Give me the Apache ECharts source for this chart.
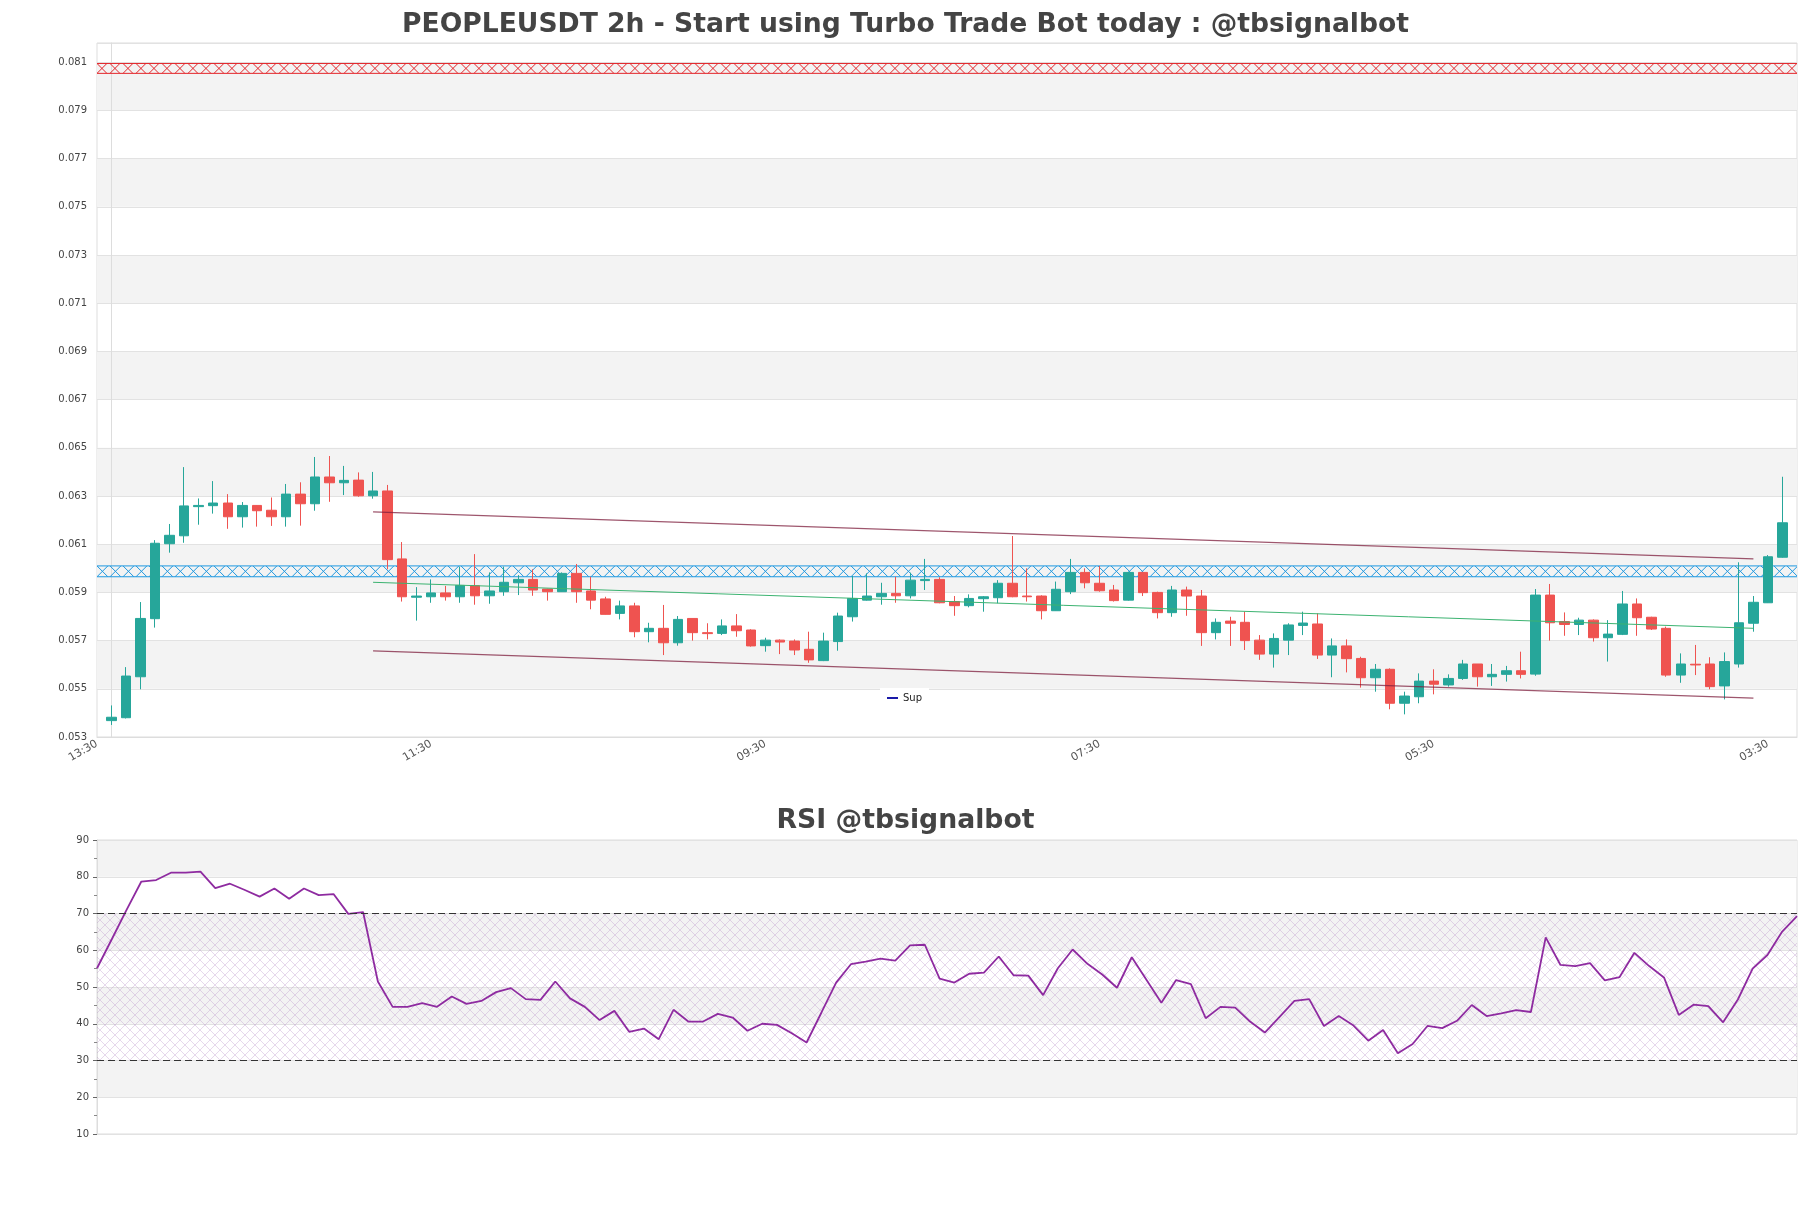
<!DOCTYPE html>
<html>
<head>
<meta charset="utf-8">
<script src="https://cdn.jsdelivr.net/npm/echarts@6/dist/echarts.min.js"></script>
<style>
html,body{margin:0;padding:0;background:#fff;}
#chart{width:1811px;height:1208px;}
</style>
</head>
<body>
<div id="chart"></div>
<script>
// ---- data ----
const titleMain = 'PEOPLEUSDT 2h - Start using Turbo Trade Bot today : @tbsignalbot';
const titleRsi = 'RSI @tbsignalbot';
const xTickLabels = ['13:30', '11:30', '09:30', '07:30', '05:30', '03:30'];

const opens = [0.05368,0.05380,0.05550,0.05791,0.06102,0.06135,0.06256,0.06260,0.06271,0.06214,
0.06261,0.06241,0.06214,0.06308,0.06268,0.06379,0.06355,0.06366,0.06301,0.06321,
0.06039,0.05880,0.05882,0.05898,0.05882,0.05928,0.05886,0.05903,0.05940,0.05954,
0.05914,0.05903,0.05979,0.05906,0.05873,0.05813,0.05844,0.05737,0.05751,0.05691,
0.05792,0.05733,0.05730,0.05761,0.05744,0.05679,0.05702,0.05698,0.05664,0.05617,
0.05696,0.05799,0.05868,0.05882,0.05896,0.05886,0.05949,0.05954,0.05862,0.05845,
0.05874,0.05878,0.05938,0.05885,0.05885,0.05824,0.05903,0.05983,0.05938,0.05910,
0.05868,0.05983,0.05900,0.05816,0.05910,0.05885,0.05733,0.05781,0.05776,0.05702,
0.05644,0.05702,0.05763,0.05769,0.05640,0.05678,0.05626,0.05546,0.05581,0.05440,
0.05467,0.05532,0.05516,0.05543,0.05603,0.05550,0.05560,0.05575,0.05561,0.05889,
0.05779,0.05767,0.05785,0.05712,0.05726,0.05852,0.05797,0.05751,0.05557,0.05602,
0.05603,0.05512,0.05603,0.05772,0.05857,0.06046];
const closes = [0.05382,0.05553,0.05792,0.06104,0.06137,0.06259,0.06261,0.06271,0.06214,0.06261,
0.06239,0.06214,0.06308,0.06268,0.06379,0.06355,0.06365,0.06301,0.06321,0.06036,
0.05882,0.05885,0.05898,0.05882,0.05929,0.05886,0.05906,0.05942,0.05954,0.05910,
0.05903,0.05979,0.05903,0.05868,0.05809,0.05844,0.05737,0.05751,0.05691,0.05788,
0.05733,0.05729,0.05761,0.05741,0.05678,0.05702,0.05694,0.05661,0.05620,0.05698,
0.05802,0.05875,0.05885,0.05896,0.05886,0.05951,0.05954,0.05857,0.05845,0.05875,
0.05882,0.05938,0.05882,0.05882,0.05824,0.05913,0.05983,0.05940,0.05907,0.05866,
0.05983,0.05899,0.05816,0.05910,0.05885,0.05733,0.05776,0.05772,0.05700,0.05644,
0.05709,0.05765,0.05773,0.05640,0.05678,0.05625,0.05546,0.05581,0.05440,0.05470,
0.05532,0.05519,0.05543,0.05603,0.05550,0.05560,0.05575,0.05560,0.05889,0.05774,
0.05767,0.05785,0.05712,0.05727,0.05852,0.05795,0.05748,0.05557,0.05603,0.05599,
0.05509,0.05613,0.05774,0.05859,0.06048,0.06189];
const lows = [0.05350,0.05377,0.05498,0.05754,0.06065,0.06106,0.06181,0.06227,0.06164,0.06169,
0.06173,0.06176,0.06173,0.06177,0.06239,0.06276,0.06304,0.06297,0.06289,0.05996,
0.05862,0.05783,0.05857,0.05866,0.05857,0.05849,0.05853,0.05886,0.05889,0.05886,
0.05866,0.05902,0.05857,0.05830,0.05808,0.05788,0.05714,0.05693,0.05640,0.05679,
0.05700,0.05705,0.05723,0.05716,0.05675,0.05654,0.05644,0.05640,0.05608,0.05615,
0.05658,0.05779,0.05866,0.05849,0.05857,0.05875,0.05910,0.05855,0.05803,0.05838,
0.05820,0.05855,0.05880,0.05862,0.05788,0.05823,0.05893,0.05917,0.05903,0.05862,
0.05866,0.05885,0.05792,0.05799,0.05803,0.05678,0.05705,0.05678,0.05661,0.05620,
0.05588,0.05640,0.05723,0.05624,0.05548,0.05568,0.05505,0.05488,0.05415,0.05394,
0.05440,0.05477,0.05509,0.05537,0.05509,0.05512,0.05530,0.05543,0.05554,0.05700,
0.05720,0.05723,0.05696,0.05613,0.05723,0.05720,0.05744,0.05550,0.05525,0.05557,
0.05498,0.05456,0.05588,0.05737,0.05856,0.06044];
const highs = [0.05431,0.05590,0.05860,0.06117,0.06184,0.06420,0.06290,0.06362,0.06308,0.06275,
0.06262,0.06294,0.06350,0.06357,0.06462,0.06466,0.06425,0.06398,0.06400,0.06346,
0.06109,0.05922,0.05954,0.05927,0.06007,0.06059,0.05983,0.06007,0.05972,0.05996,
0.05915,0.05983,0.06018,0.05965,0.05882,0.05866,0.05857,0.05774,0.05848,0.05802,
0.05792,0.05772,0.05788,0.05810,0.05747,0.05712,0.05705,0.05705,0.05737,0.05733,
0.05816,0.05968,0.05979,0.05940,0.05965,0.05982,0.06039,0.05963,0.05885,0.05892,
0.05885,0.05951,0.06134,0.06000,0.05888,0.05945,0.06039,0.06000,0.06010,0.05931,
0.05986,0.05985,0.05903,0.05927,0.05924,0.05910,0.05792,0.05799,0.05820,0.05723,
0.05730,0.05772,0.05820,0.05813,0.05709,0.05705,0.05633,0.05603,0.05585,0.05488,
0.05564,0.05581,0.05560,0.05620,0.05603,0.05603,0.05595,0.05654,0.05914,0.05935,
0.05817,0.05795,0.05788,0.05785,0.05906,0.05875,0.05799,0.05758,0.05647,0.05682,
0.05631,0.05651,0.06025,0.05885,0.06055,0.06380];

const rsi = [55.1,63.0,71.0,78.7,79.1,81.1,81.1,81.4,76.9,78.1,
76.4,74.6,76.8,74.0,76.8,75.0,75.3,69.9,70.4,51.5,
44.6,44.6,45.6,44.6,47.4,45.4,46.2,48.6,49.7,46.7,
46.5,51.5,46.9,44.6,41.0,43.5,37.8,38.7,35.8,43.8,
40.6,40.6,42.7,41.7,38.1,40.0,39.7,37.4,34.9,43.0,
51.2,56.2,56.9,57.7,57.2,61.3,61.5,52.3,51.2,53.6,
53.9,58.3,53.2,53.1,47.8,55.1,60.2,56.3,53.4,49.8,
58.1,51.9,45.7,51.9,50.8,41.5,44.6,44.4,40.6,37.6,
41.9,46.2,46.7,39.4,42.1,39.5,35.4,38.3,32.0,34.5,
39.4,38.8,40.8,45.1,42.1,42.8,43.7,43.2,63.5,56.0,
55.7,56.5,51.8,52.7,59.3,55.7,52.6,42.4,45.2,44.8,
40.4,46.6,55.0,58.7,65.1,69.3];

// channel (index, price)
const channelX = [18, 113];
const channelUpper = [0.06234, 0.06039];
const channelLower = [0.05657, 0.05461];
const channelMid = [0.05942, 0.05751];
// zones [low, high]
const resistanceZone = [0.08054, 0.08095];
const supportZone = [0.05965, 0.06010];
const rsiUpper = 70, rsiLower = 30;

// ---- chart ----
const font = 'DejaVu Sans, Verdana, sans-serif';
const green = '#26a69a', red = '#ef5350';

const candleData = opens.map((o, i) => [i, o, closes[i], lows[i], highs[i]]);
const rsiData = rsi.map((v, i) => [i, v]);
const line = (ys) => channelX.map((x, i) => [x, ys[i]]);

function hatch(color) {
  return function (params, api) {
    const cs = params.coordSys;
    const yTop = api.coord([api.value(0), api.value(2)])[1];
    const yBot = api.coord([api.value(0), api.value(1)])[1];
    const h = yBot - yTop;
    const step = 13;
    const x0 = cs.x, x1 = cs.x + cs.width;
    const st = { stroke: color, lineWidth: 1 };
    const children = [
      { type: 'line', shape: { x1: x0, y1: yTop, x2: x1, y2: yTop }, style: st },
      { type: 'line', shape: { x1: x0, y1: yBot, x2: x1, y2: yBot }, style: st }
    ];
    for (let c = x0 + h / 2; c - h / 2 < x1; c += step) {
      children.push({ type: 'line', shape: { x1: c - h / 2, y1: yTop, x2: c + h / 2, y2: yBot }, style: st });
      children.push({ type: 'line', shape: { x1: c - h / 2, y1: yBot, x2: c + h / 2, y2: yTop }, style: st });
    }
    return { type: 'group', children };
  };
}

const pat = document.createElement('canvas');
pat.width = 10; pat.height = 10;
(function () {
  const g = pat.getContext('2d');
  g.strokeStyle = 'rgba(175,130,195,0.45)';
  g.lineWidth = 0.7;
  g.beginPath();
  g.moveTo(0, 0); g.lineTo(10, 10);
  g.moveTo(10, 0); g.lineTo(0, 10);
  g.stroke();
})();

const chart = echarts.init(document.getElementById('chart'), null, { renderer: 'canvas' });
chart.setOption({
  animation: false,
  backgroundColor: '#ffffff',
  textStyle: { fontFamily: font },
  title: [
    { text: titleMain, left: 'center', top: 7, textStyle: { fontFamily: font, fontSize: 26.6, fontWeight: 'bold', color: '#444444' } },
    { text: titleRsi, left: 'center', top: 803, textStyle: { fontFamily: font, fontSize: 26.7, fontWeight: 'bold', color: '#444444' } }
  ],
  legend: {
    data: ['Sup'], left: 880, top: 688, backgroundColor: '#ffffff', padding: [5, 7],
    icon: 'rect', itemWidth: 11, itemHeight: 2, itemGap: 6,
    textStyle: { fontFamily: font, fontSize: 10, color: '#222' }
  },
  grid: [
    { left: 97, top: 43, width: 1700, height: 694, show: true, borderColor: '#dddddd', borderWidth: 1, backgroundColor: 'transparent' },
    { left: 97, top: 840, width: 1700, height: 294, show: true, borderColor: '#dddddd', borderWidth: 1, backgroundColor: 'transparent' }
  ],
  xAxis: [
    {
      type: 'value', gridIndex: 0, min: -1, max: 116, interval: 23,
      axisLine: { show: true, lineStyle: { color: '#dddddd' } },
      axisTick: { show: false },
      splitLine: { show: false },
      axisLabel: {
        rotate: 30, margin: 6, fontSize: 11, color: '#555', fontFamily: font, showMaxLabel: false,
        formatter: (v) => { const k = Math.round((v + 1) / 23); return (Math.abs((v + 1) - 23 * k) < 1e-6 && xTickLabels[k]) ? xTickLabels[k] : ''; }
      }
    },
    {
      type: 'value', gridIndex: 1, min: 0, max: rsi.length - 1,
      axisLine: { show: false }, axisTick: { show: false }, axisLabel: { show: false }, splitLine: { show: false }
    }
  ],
  yAxis: [
    {
      type: 'value', gridIndex: 0, min: 0.053, max: 0.0818, interval: 0.002,
      axisLine: { show: true, lineStyle: { color: '#dddddd' } },
      axisTick: { show: false },
      axisLabel: { fontSize: 10, color: '#444', margin: 10, fontFamily: font, showMaxLabel: false, formatter: (v) => v.toFixed(3) },
      splitLine: { show: true, lineStyle: { color: '#e2e2e2', width: 1 } },
      splitArea: { show: true, areaStyle: { color: ['rgba(255,255,255,0)', '#f3f3f3'] } }
    },
    {
      type: 'value', gridIndex: 1, min: 10, max: 90, interval: 10,
      axisLine: { show: true, lineStyle: { color: '#dddddd' } },
      axisTick: { show: true, length: 4, lineStyle: { color: '#666' } },
      minorTick: { show: true, splitNumber: 2, length: 3, lineStyle: { color: '#888' } },
      axisLabel: { fontSize: 10, color: '#444', margin: 8, fontFamily: font },
      splitLine: { show: true, lineStyle: { color: '#e2e2e2', width: 1 } },
      splitArea: { show: true, areaStyle: { color: ['rgba(255,255,255,0)', '#f3f3f3'] } }
    }
  ],
  series: [
    {
      name: 'resistance', type: 'custom', xAxisIndex: 0, yAxisIndex: 0, clip: true, z: 1, silent: true,
      renderItem: hatch('#e3262b'),
      encode: { x: 0, y: [1, 2] },
      data: [[0, resistanceZone[0], resistanceZone[1]]]
    },
    {
      name: 'support', type: 'custom', xAxisIndex: 0, yAxisIndex: 0, clip: true, z: 1, silent: true,
      renderItem: hatch('#1e98e0'),
      encode: { x: 0, y: [1, 2] },
      data: [[0, supportZone[0], supportZone[1]]]
    },
    {
      name: 'candles', type: 'candlestick', xAxisIndex: 0, yAxisIndex: 0, z: 3,
      barWidth: 10,
      itemStyle: { color: green, color0: red, borderColor: green, borderColor0: red, borderWidth: 1 },
      data: candleData
    },
    {
      name: 'upper', type: 'line', xAxisIndex: 0, yAxisIndex: 0, symbol: 'none', z: 4,
      lineStyle: { color: 'rgba(125,30,60,0.75)', width: 1.2 }, data: line(channelUpper)
    },
    {
      name: 'lower', type: 'line', xAxisIndex: 0, yAxisIndex: 0, symbol: 'none', z: 4,
      lineStyle: { color: 'rgba(125,30,60,0.75)', width: 1.2 }, data: line(channelLower)
    },
    {
      name: 'mid', type: 'line', xAxisIndex: 0, yAxisIndex: 0, symbol: 'none', z: 4,
      lineStyle: { color: '#3cb371', width: 1 }, data: line(channelMid)
    },
    {
      name: 'Sup', type: 'line', xAxisIndex: 0, yAxisIndex: 0, symbol: 'none',
      itemStyle: { color: '#1a1aa8' }, lineStyle: { color: '#1a1aa8' }, data: []
    },
    {
      name: 'RSI', type: 'line', xAxisIndex: 1, yAxisIndex: 1, symbol: 'none', z: 4,
      lineStyle: { color: '#8e2ba0', width: 1.8 },
      data: rsiData,
      markLine: {
        silent: true, symbol: 'none', label: { show: false },
        lineStyle: { color: '#333', type: [7, 4], width: 1.2 },
        data: [{ yAxis: rsiUpper }, { yAxis: rsiLower }]
      },
      markArea: {
        silent: true,
        itemStyle: { color: { image: pat, repeat: 'repeat' } },
        data: [[{ yAxis: rsiLower }, { yAxis: rsiUpper }]]
      }
    }
  ]
});
</script>
</body>
</html>
